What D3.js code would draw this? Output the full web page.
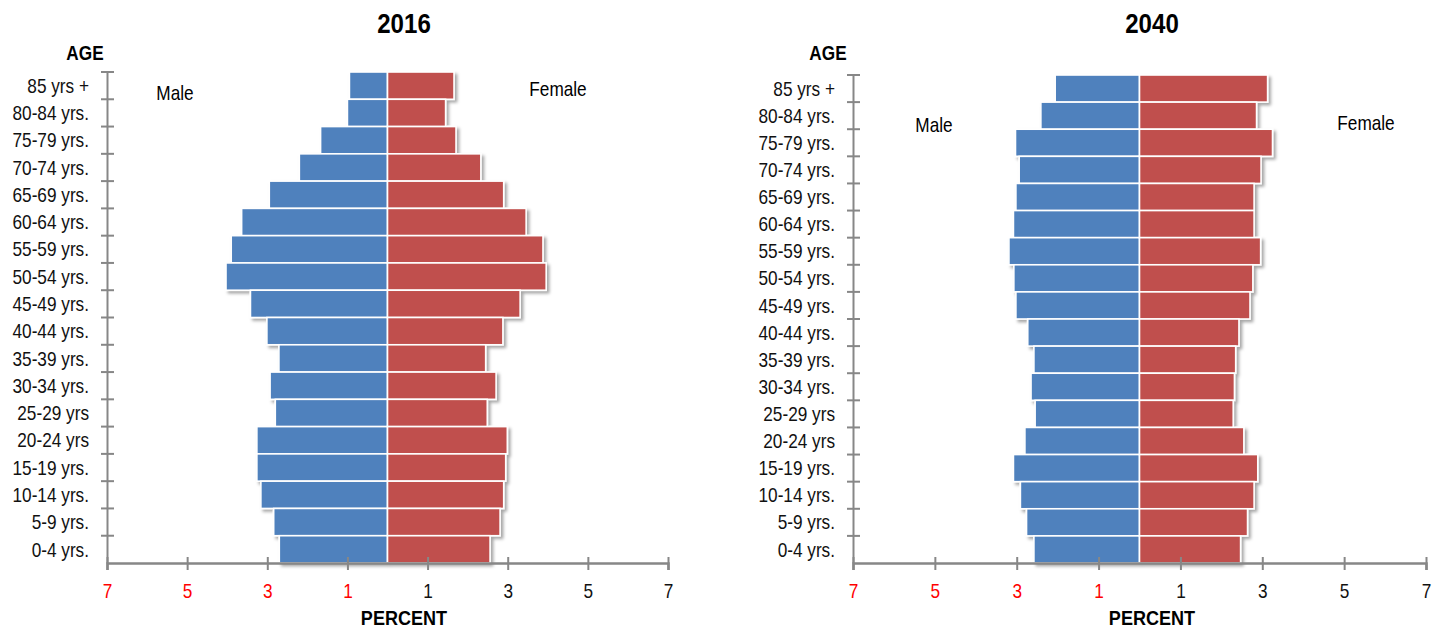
<!DOCTYPE html>
<html>
<head>
<meta charset="utf-8">
<script src="https://cdn.jsdelivr.net/npm/d3@7"></script>
<style>
  html, body { margin: 0; padding: 0; background: #fff; }
  svg { display: block; }
  text { font-family: "Liberation Sans", Arial, sans-serif; }
</style>
</head>
<body>
<svg id="chart" width="1440" height="628"></svg>
<script>
const ages = ["85 yrs +","80-84 yrs.","75-79 yrs.","70-74 yrs.","65-69 yrs.","60-64 yrs.","55-59 yrs.","50-54 yrs.","45-49 yrs.","40-44 yrs.","35-39 yrs.","30-34 yrs.","25-29 yrs","20-24 yrs","15-19 yrs.","10-14 yrs.","5-9 yrs.","0-4 yrs."];
const male2016   = [0.95,1.00,1.67,2.20,2.95,3.64,3.90,4.03,3.42,3.01,2.71,2.93,2.80,3.26,3.26,3.16,2.84,2.70];
const female2016 = [1.66,1.45,1.71,2.33,2.90,3.46,3.88,3.96,3.31,2.88,2.45,2.71,2.49,2.99,2.95,2.90,2.81,2.56];
const male2040   = [2.06,2.41,3.03,2.94,3.02,3.08,3.19,3.07,3.02,2.73,2.58,2.65,2.55,2.80,3.08,2.91,2.76,2.58];
const female2040 = [3.13,2.86,3.25,2.97,2.80,2.80,2.96,2.77,2.70,2.43,2.35,2.32,2.29,2.55,2.89,2.80,2.64,2.47];
const tickValues = [-7,-5,-3,-1,1,3,5,7];
const titles = ["2016","2040"];

const NARROW = 0.82;
const svg = d3.select("#chart");
const defs = svg.append("defs");
const f = defs.append("filter").attr("id","shadow").attr("x","-10%").attr("y","-30%").attr("width","130%").attr("height","180%");
f.append("feDropShadow").attr("dx",2.5).attr("dy",2.5).attr("stdDeviation",1.8)
  .attr("flood-color","#000").attr("flood-opacity",0.35);

const AXIS = "#878787";

function label(g, x, y, txt, size, bold, k) {
  return g.append("text")
    .attr("transform", `translate(${x},${y}) scale(${k},1)`)
    .attr("text-anchor","middle")
    .attr("font-size", size).attr("font-weight", bold ? "bold" : "normal")
    .attr("fill","#000").text(txt);
}

function panel(cfg) {
  const {x0, x1, y0, y1, male, female, title, titleX, ageX, maleXY, femaleXY} = cfg;
  const g = svg.append("g");
  const x = d3.scaleLinear().domain([-7, 7]).range([x0, x1]);
  const y = d3.scaleBand().domain(ages).range([y0, y1]).padding(0);

  const rows = ages.map((a, i) => ({age: a, m: male[i], f: female[i]}));

  // bars
  const bars = g.append("g").attr("filter","url(#shadow)");
  bars.selectAll("rect.m").data(rows).join("rect").attr("class","m")
    .attr("x", d => x(-d.m)).attr("width", d => x(0) - x(-d.m))
    .attr("y", d => y(d.age)).attr("height", y.bandwidth())
    .attr("fill","#4F81BD").attr("stroke","#fff").attr("stroke-width",1.6);
  bars.selectAll("rect.f").data(rows).join("rect").attr("class","f")
    .attr("x", x(0)).attr("width", d => x(d.f) - x(0))
    .attr("y", d => y(d.age)).attr("height", y.bandwidth())
    .attr("fill","#C0504D").attr("stroke","#fff").attr("stroke-width",1.6);

  // y axis
  const pad = 18;
  const ya = g.append("g").attr("transform", `translate(${x0},0)`)
    .call(d3.axisLeft(y).tickSize(0).tickPadding(pad).tickSizeOuter(0));
  ya.select(".domain").attr("stroke", AXIS).attr("stroke-width", 2);
  ya.selectAll("text").attr("font-size", 21).attr("fill", "#111")
    .attr("x", -pad / NARROW).attr("transform", `scale(${NARROW},1)`).attr("dy", "0.34em");
  const bounds = ages.map(a => y(a));
  g.append("g").selectAll("line").data(bounds).join("line")
    .attr("x1", x0 - 6).attr("x2", x0 + 7)
    .attr("y1", d => d).attr("y2", d => d)
    .attr("stroke", AXIS).attr("stroke-width", 2);

  // x axis
  const xa = g.append("g").attr("transform", `translate(0,${y1})`)
    .call(d3.axisBottom(x).tickValues(tickValues).tickFormat(d => Math.abs(d)).tickSizeOuter(0).tickSize(7).tickPadding(13));
  xa.select(".domain").attr("stroke", AXIS).attr("stroke-width", 2.5);
  xa.selectAll(".tick line").attr("y1", -6).attr("y2", 7).attr("stroke", AXIS).attr("stroke-width", 2);
  xa.selectAll(".tick text").attr("font-size", 21)
    .attr("transform", `scale(${NARROW},1)`)
    .attr("fill", d => d < 0 ? "#FF0000" : "#111");

  // texts
  label(g, titleX, 33, title, 28, true, 0.86);
  label(g, ageX, 60, "AGE", 20, true, 0.86);
  label(g, titleX, 625, "PERCENT", 21, true, 0.86);
  label(g, maleXY[0], maleXY[1], "Male", 21, false, NARROW);
  label(g, femaleXY[0], femaleXY[1], "Female", 21, false, NARROW);
}

panel({x0:107, x1:668, y0:72, y1:563, male:male2016, female:female2016, title:titles[0],
  titleX:404, ageX:85, maleXY:[175,100], femaleXY:[558,96]});
panel({x0:853, x1:1426, y0:75, y1:563, male:male2040, female:female2040, title:titles[1],
  titleX:1152, ageX:828, maleXY:[934,132], femaleXY:[1366,130]});
</script>
</body>
</html>
